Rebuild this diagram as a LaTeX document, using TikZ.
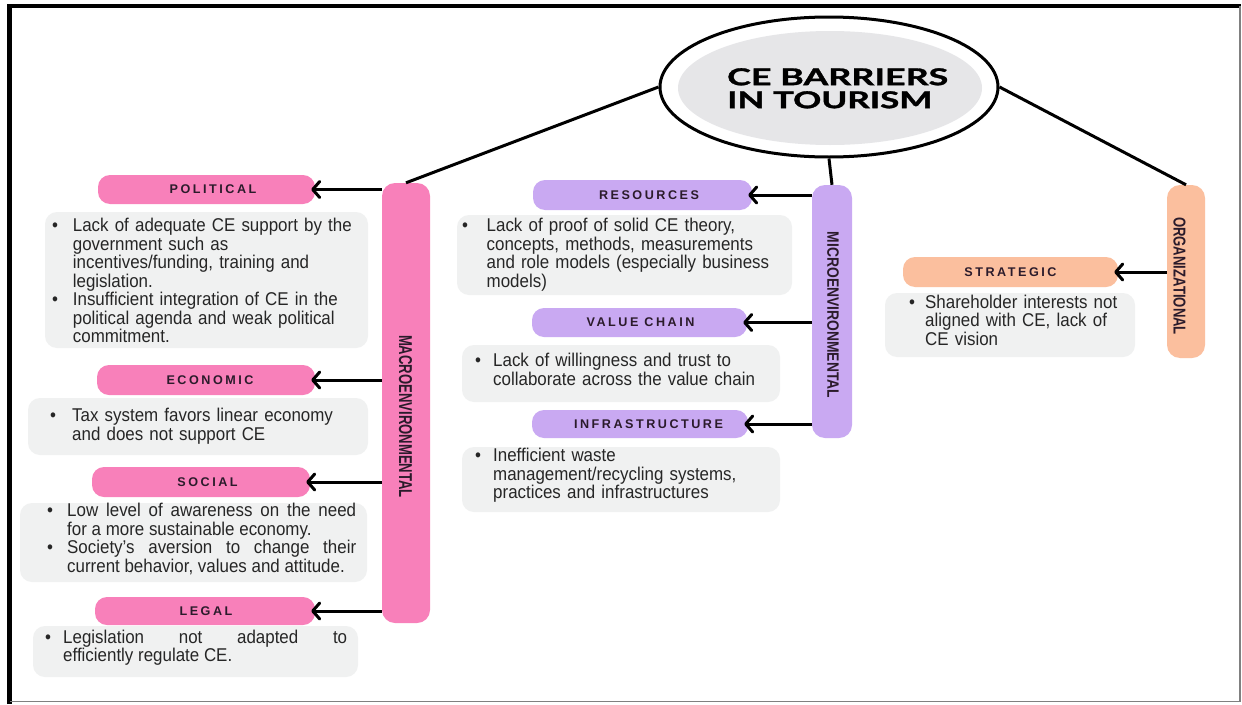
\documentclass[tikz,border=0pt]{standalone}
\usepackage{fontspec}
\usepackage{graphicx}
\setmainfont{Liberation Sans}
\newfontfamily\bodyfont{Liberation Sans}[FakeStretch=0.915]
\newfontfamily\lblfont{Liberation Sans}[LetterSpace=20]
\newfontfamily\titlefont{Lato}[BoldFeatures={FakeBold=1.2}]
\usetikzlibrary{shapes.geometric,arrows.meta}
\definecolor{pinkc}{HTML}{F880BA}
\definecolor{lilacc}{HTML}{C9A9F2}
\definecolor{peachc}{HTML}{FBBF9E}
\definecolor{greyc}{HTML}{F0F1F1}
\definecolor{ellc}{HTML}{E6E6E8}
\definecolor{lblc}{HTML}{2B1B2B}
\definecolor{txtc}{HTML}{262626}
\newdimen\bulind
\newcommand\bulpar[2]{\bulind=#1pt\relax\tolerance=10000\relax\noindent\hangindent=\bulind\hangafter=1\relax\hbox to \bulind{\hskip0.5pt\textbullet\hfil}#2\par}
\tikzset{
  pillar/.style={rounded corners=13pt, inner sep=0pt},
  pill/.style={rounded corners=12pt, inner sep=0pt, text=lblc,
    font=\lblfont\bfseries\fontsize{12.6}{14}\selectfont},
  gbox/.style={fill=greyc, rounded corners=12pt, inner sep=0pt},
  txt/.style={inner sep=0pt, text=txtc, anchor=base west,
    font=\bodyfont\fontsize{18.5}{18.5}\selectfont},
  conn/.style={line width=3pt, black},
  arr/.style={line width=3pt, black, -{Straight Barb[length=7pt,width=16pt,line cap=round,line join=round]}},
  vlabel/.style={inner sep=0pt, rotate=-90, text=lblc, font=\bfseries}
}
\begin{document}
\begin{tikzpicture}[x=1pt,y=-1pt]
\useasboundingbox (0,0) rectangle (1242,704);
\fill[white] (0,0) rectangle (1242,704);
% frame
\draw[line width=4.4pt, black] (9.5,704) -- (9.5,6.2) -- (1241,6.2);
\draw[line width=1.3pt, gray] (1240,6.2) -- (1240,701.7) -- (9.5,701.7);

% title
\node[ellipse, draw, line width=3pt, fill=white, minimum width=338pt, minimum height=140pt, inner sep=0pt] (outer) at (829,87) {};
\node[ellipse, fill=ellc, minimum width=304pt, minimum height=114pt, inner sep=0pt] (inner) at (830,88) {};
\node[anchor=north west, inner sep=0pt, align=left, text=black,
  font=\titlefont\bfseries\fontsize{20}{23}\selectfont] (title) at (727,68)
  {\resizebox{221pt}{17pt}{CE BARRIERS}\\\resizebox{205pt}{17pt}{IN TOURISM}};

% pillars
\node[pillar, fill=pinkc, minimum width=48pt, minimum height=440pt] (macro) at (406,403) {};
\node[pillar, fill=lilacc, minimum width=40pt, minimum height=253pt] (micro) at (832,311.5) {};
\node[pillar, fill=peachc, minimum width=38pt, minimum height=173pt] (org) at (1186,271.5) {};
\node[vlabel] (macrolbl) at (405.5,416.5) {\resizebox{163pt}{13pt}{MACROENVIRONMENTAL}};
\node[vlabel] (microlbl) at (833,315) {\resizebox{166pt}{11.5pt}{MICROENVIRONMENTAL}};
\node[vlabel] (orglbl) at (1179.5,276) {\resizebox{118pt}{12pt}{ORGANIZATIONAL}};

% connectors from title
\draw[conn] (outer.west) -- (macro.north);
\draw[conn] (outer.south) -- (micro.north);
\draw[conn] (outer.east) -- (org.north);

% grey boxes
\node[gbox, minimum width=323pt, minimum height=136pt] (polbox) at (206.5,280) {};
\node[gbox, minimum width=340pt, minimum height=57pt] (ecobox) at (198,426.5) {};
\node[gbox, minimum width=347pt, minimum height=79pt] (socbox) at (193.5,542.5) {};
\node[gbox, minimum width=325pt, minimum height=51pt] (legbox) at (195.5,651.5) {};
\node[gbox, minimum width=335pt, minimum height=80pt] (resbox) at (624.5,255) {};
\node[gbox, minimum width=318pt, minimum height=57pt] (valbox) at (621,373.5) {};
\node[gbox, minimum width=318pt, minimum height=65pt] (infbox) at (621,479.5) {};
\node[gbox, minimum width=250pt, minimum height=64pt] (strbox) at (1010,325) {};

% category pills
\node[pill, fill=pinkc, minimum width=217pt, minimum height=29pt] (pol) at (206.5,189.5) {\hspace*{13pt}POLITICAL};
\node[pill, fill=pinkc, minimum width=218pt, minimum height=30pt] (eco) at (206,380) {\hspace*{8pt}ECONOMIC};
\node[pill, fill=pinkc, minimum width=218pt, minimum height=30pt] (soc) at (201,482) {\hspace*{13pt}SOCIAL};
\node[pill, fill=pinkc, minimum width=220pt, minimum height=28pt] (leg) at (205,611) {\hspace*{2pt}LEGAL};
\node[pill, fill=lilacc, minimum width=219pt, minimum height=30pt] (res) at (642.5,195) {\hspace*{13pt}RESOURCES};
\node[pill, fill=lilacc, minimum width=215pt, minimum height=29pt] (val) at (639.5,322.5) {\hspace*{2pt}VALUE CHAIN};
\node[pill, fill=lilacc, minimum width=216pt, minimum height=28pt] (inf) at (640,424) {\hspace*{17pt}INFRASTRUCTURE};
\node[pill, fill=peachc, minimum width=215pt, minimum height=30pt] (str) at (1010.5,272) {STRATEGIC};

% arrows
\draw[arr] (macro.west |- pol.east) -- ([xshift=-4pt]pol.east);
\draw[arr] (macro.west |- eco.east) -- ([xshift=-4pt]eco.east);
\draw[arr] (macro.west |- soc.east) -- ([xshift=-4pt]soc.east);
\draw[arr] (macro.west |- leg.east) -- ([xshift=-4pt]leg.east);
\draw[arr] (micro.west |- res.east) -- ([xshift=-4pt]res.east);
\draw[arr] (micro.west |- val.east) -- ([xshift=-4pt]val.east);
\draw[arr] (micro.west |- inf.east) -- ([xshift=-4pt]inf.east);
\draw[arr] (org.west |- str.east) -- ([xshift=-4pt]str.east);

% texts
\node[txt, text width=312pt, align=left] (poltxt) at (51.5,231.7)
 {\bulpar{21.2}{Lack of adequate CE support by the\newline government such as\newline incentives/funding, training and\newline legislation.}%
  \bulpar{21.2}{Insufficient integration of CE in the\newline political agenda and weak political\newline commitment.}};
\node[txt, text width=312pt, align=left] (ecotxt) at (49.5,421.7)
 {\bulpar{22.5}{Tax system favors linear economy\newline and does not support CE}};
\node[txt, text width=309.5pt, align=justify] (soctxt) at (46.5,516.7)
 {\bulpar{20.5}{Low level of awareness on the need\linebreak for a more sustainable economy.}%
  \bulpar{20.5}{Society’s aversion to change their\linebreak current behavior, values and attitude.}};
\node[txt, text width=302.5pt, align=justify] (legtxt) at (44.5,643.3)
 {\bulpar{18.5}{Legislation not adapted to\linebreak efficiently regulate CE.}};
\node[txt, text width=326pt, align=left] (restxt) at (461.5,231.7)
 {\bulpar{25}{Lack of proof of solid CE theory,\newline concepts, methods, measurements\newline and role models (especially business\newline models)}};
\node[txt, text width=301pt, align=left] (valtxt) at (474.5,366.7)
 {\bulpar{18.5}{Lack of willingness and trust to\newline collaborate across the value chain}};
\node[txt, text width=301pt, align=left] (inftxt) at (474.5,461.7)
 {\bulpar{18.5}{Inefficient waste\newline management/recycling systems,\newline practices and infrastructures}};
\node[txt, text width=222pt, align=left] (strtxt) at (908.5,308.3)
 {\bulpar{16.5}{Shareholder interests not\newline aligned with CE, lack of\newline CE vision}};
\end{tikzpicture}
\end{document}
